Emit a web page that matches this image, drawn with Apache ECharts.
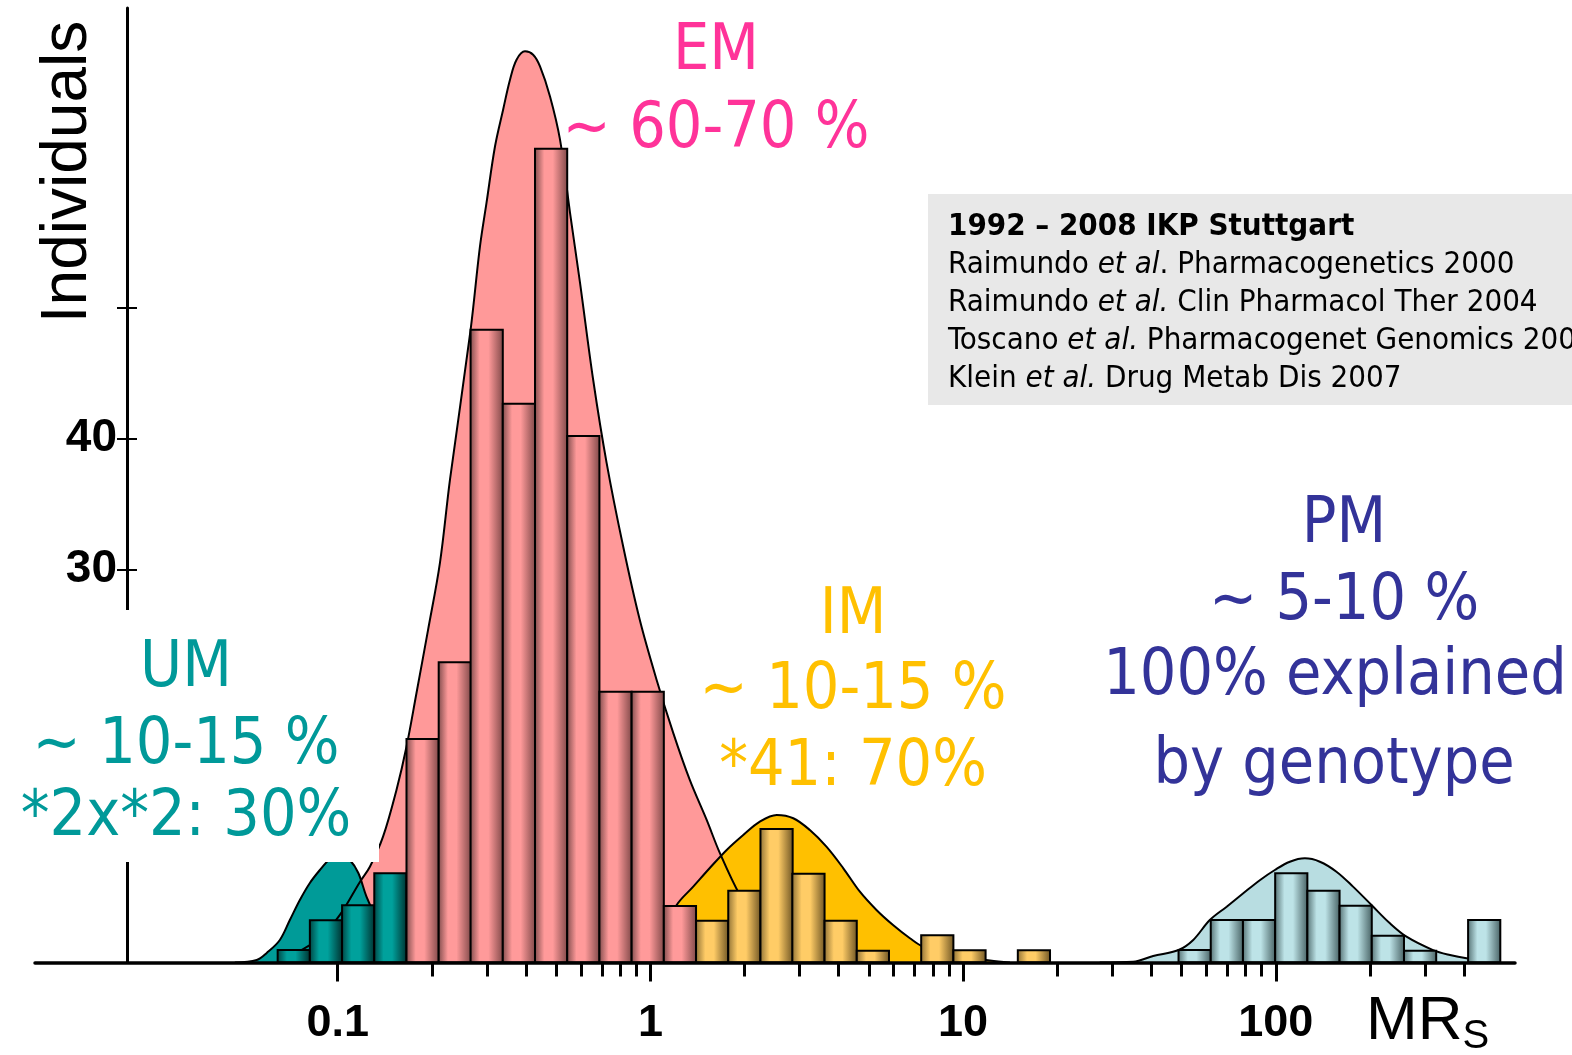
<!DOCTYPE html>
<html><head><meta charset="utf-8">
<script src="https://cdn.jsdelivr.net/npm/echarts@6/dist/echarts.min.js"></script>
<style>html,body{margin:0;padding:0;background:#fff}#c{width:1572px;height:1055px}</style>
</head><body><div id="c"></div><script>
// x values are log10(MR_S), y values in "Individuals" (axis units)
const BIN_WIDTH = 0.103;
const umBinStart = [-1.192, -1.089, -0.986, -0.883];
const umCounts   = [0.95, 3.22, 4.37, 6.81];
const emBinStart = [-0.780, -0.677, -0.575, -0.472, -0.369, -0.266, -0.163, -0.060, 0.043];
const emCounts   = [17.06, 22.92, 48.28, 42.63, 62.10, 40.17, 20.67, 20.67, 4.31];
const imBinStart = [0.146, 0.249, 0.352, 0.454, 0.557, 0.660, 0.763, 0.866, 0.969, 1.072, 1.175];
const imCounts   = [3.19, 5.48, 10.19, 6.78, 3.19, 0.90, 0, 2.08, 0.93, 0, 0.93];
const pmBinStart = [1.689, 1.792, 1.895, 1.998, 2.101, 2.204, 2.307, 2.410, 2.512, 2.615];
const pmCounts   = [0.95, 3.24, 3.24, 6.81, 5.48, 4.34, 2.05, 0.90, 0, 3.24];

const emCurve = [[-1.185,0],[-1.121,0.88],[-1.057,1.87],[-0.993,3.63],[-0.929,6.15],[-0.897,7.31],[-0.855,9.60],[-0.812,13.17],[-0.780,16.47],[-0.748,20.57],[-0.711,25.38],[-0.673,30.50],[-0.641,36.83],[-0.575,48.28],[-0.545,54.64],[-0.524,57.98],[-0.497,62.27],[-0.471,65.08],[-0.449,67.37],[-0.428,68.89],[-0.401,69.53],[-0.375,69.27],[-0.353,68.38],[-0.321,66.09],[-0.289,62.79],[-0.257,57.21],[-0.225,51.87],[-0.183,44.47],[-0.140,38.13],[-0.087,31.74],[-0.034,26.15],[0.020,21.56],[0.073,17.52],[0.126,13.93],[0.180,10.88],[0.222,8.36],[0.286,5.15],[0.350,2.86],[0.446,0.95],[0.574,0.19],[0.702,0]];
const umCurve = [[-1.329,0],[-1.259,0.19],[-1.227,0.73],[-1.185,1.72],[-1.153,3.24],[-1.121,4.77],[-1.089,6.07],[-1.057,7.06],[-1.025,7.90],[-0.993,8.36],[-0.961,7.82],[-0.934,6.83],[-0.908,5.02],[-0.881,3.63],[-0.833,1.56],[-0.785,0.42],[-0.728,0]];
const imCurve = [[-0.098,0],[-0.034,0.57],[0.037,2.10],[0.084,4.39],[0.137,5.79],[0.190,7.21],[0.244,8.59],[0.297,9.73],[0.350,10.75],[0.404,11.26],[0.457,11.01],[0.510,10.11],[0.563,8.84],[0.617,7.19],[0.670,5.40],[0.723,4.01],[0.776,2.86],[0.830,1.85],[0.872,1.21],[0.977,0.50],[1.086,0.15],[1.150,0]];
const pmCurve = [[1.437,0],[1.544,0.06],[1.608,0.50],[1.689,0.95],[1.736,1.72],[1.789,3.24],[1.843,4.26],[1.896,5.28],[1.950,6.30],[1.997,7.06],[2.045,7.69],[2.093,7.95],[2.141,7.69],[2.194,6.93],[2.247,5.79],[2.306,4.39],[2.365,2.99],[2.418,1.97],[2.503,0.95],[2.557,0.57],[2.610,0.32],[2.717,0]];

const majorTicks = [0.1, 1, 10, 100];
const majorTickLabels = ['0.1', '1', '10', '100'];
const minorTicks = [0.2,0.3,0.4,0.5,0.6,0.7,0.8,0.9,2,3,4,5,6,7,8,9,20,30,40,50,60,70,80,90,200,300,400];
const yTickValues = [30, 40, 50];
const yLabelValues = [30, 40];

const X_MIN = -1.968, X_MAX = 2.765, Y_MAX = 72.84;

function binData(starts, counts) {
  return starts.map((s, i) => [s, s + BIN_WIDTH, counts[i]]);
}
function barSeries(name, starts, counts, dark, light, darker) {
  return {
    name, type: 'custom', xAxisIndex: 0, yAxisIndex: 0, z: 6,
    data: binData(starts, counts),
    renderItem(params, api) {
      const v = api.value(2);
      if (!v) return null;
      const p0 = api.coord([api.value(0), v]);
      const p1 = api.coord([api.value(1), 0]);
      return {
        type: 'rect',
        shape: { x: p0[0], y: p0[1], width: p1[0] - p0[0], height: p1[1] - p0[1] },
        style: {
          fill: new echarts.graphic.LinearGradient(0, 0, 1, 0, [
            { offset: 0, color: dark }, { offset: 0.3, color: light },
            { offset: 0.55, color: light }, { offset: 1, color: darker }]),
          stroke: '#000', lineWidth: 2
        }
      };
    }
  };
}
function curveSeries(name, data, fill) {
  return {
    name, type: 'line', xAxisIndex: 0, yAxisIndex: 0, data, smooth: 0.35,
    showSymbol: false, symbol: 'none',
    lineStyle: { color: '#000', width: 2 },
    areaStyle: { color: fill, opacity: 1, origin: 'start' },
    silent: true
  };
}

const BIG = "'DejaVu Sans Condensed','DejaVu Sans',sans-serif";
function bigText(txt, cx, cy, color) {
  return { type: 'text', x: cx, y: cy, z: 110,
    style: { text: txt, font: '64px ' + BIG, fill: color, align: 'center', verticalAlign: 'middle',
      textShadowColor: '#b3b3b3', textShadowOffsetX: 3, textShadowOffsetY: 3, textShadowBlur: 0 } };
}
const LEG = "'DejaVu Sans Condensed','DejaVu Sans',sans-serif";
function legLine(parts, y) {
  return { type: 'text', x: 948, y: y, z: 110,
    style: { text: parts, align: 'left', verticalAlign: 'middle', fill: '#000', font: '31px ' + LEG,
      rich: { i: { fontStyle: 'italic', fontSize: 31, fontFamily: LEG, fill: '#000' },
              b: { fontWeight: 'bold', fontSize: 31, fontFamily: LEG, fill: '#000' } } } };
}

const chart = echarts.init(document.getElementById('c'), null, { renderer: 'canvas' });
chart.setOption({
  animation: false,
  backgroundColor: '#fff',
  grid: [
    { left: 35, right: 57, top: 8, bottom: 92.5 },
    { left: 127, right: 57, top: 8, bottom: 92.5 }
  ],
  xAxis: [
    { type: 'value', gridIndex: 0, min: X_MIN, max: X_MAX, z: 10,
      axisLine: { show: true, onZero: false, lineStyle: { color: '#000', width: 3.5 } },
      axisTick: { show: true, length: 19, customValues: majorTicks.map(Math.log10), lineStyle: { color: '#000', width: 3 } },
      axisLabel: { show: true, customValues: majorTicks.map(Math.log10), margin: 39,
        formatter: v => majorTickLabels[majorTicks.map(Math.log10).findIndex(t => Math.abs(t - v) < 1e-6)] || '',
        color: '#000', fontFamily: "'Liberation Sans', Arial, sans-serif", fontWeight: 'bold', fontSize: 45 },
      splitLine: { show: false } },
    { type: 'value', gridIndex: 0, min: X_MIN, max: X_MAX, position: 'bottom', offset: 0, z: 10,
      axisLine: { show: false, onZero: false },
      axisTick: { show: true, length: 14, customValues: minorTicks.map(Math.log10), lineStyle: { color: '#000', width: 3 } },
      axisLabel: { show: false }, splitLine: { show: false } },
    { type: 'value', gridIndex: 1, min: 0, max: 1, show: false }
  ],
  yAxis: [
    { type: 'value', gridIndex: 0, min: 0, max: Y_MAX, show: false },
    { type: 'value', gridIndex: 1, min: 0, max: Y_MAX, z: 10,
      axisLine: { show: true, onZero: false, lineStyle: { color: '#000', width: 3 } },
      axisTick: { show: true, length: 10, customValues: yTickValues, lineStyle: { color: '#000', width: 2 } },
      axisLabel: { show: true, customValues: yLabelValues, margin: 10, color: '#000',
        fontFamily: "'Liberation Sans', Arial, sans-serif", fontWeight: 'bold', fontSize: 46 },
      splitLine: { show: false } },
    { type: 'value', gridIndex: 1, min: 0, max: Y_MAX, position: 'left', offset: 0, z: 10,
      axisLine: { show: false, onZero: false },
      axisTick: { show: true, inside: true, length: 10, customValues: yTickValues, lineStyle: { color: '#000', width: 2 } },
      axisLabel: { show: false }, splitLine: { show: false } }
  ],
  series: [
    curveSeries('EM curve', emCurve, '#ff9999'),
    curveSeries('UM curve', umCurve, '#009b98'),
    curveSeries('IM curve', imCurve, '#ffc000'),
    curveSeries('PM curve', pmCurve, '#b8dde1'),
    barSeries('UM', umBinStart, umCounts, '#00403e', '#00a19c', '#002e2c'),
    barSeries('EM', emBinStart, emCounts, '#7a4848', '#ff9a9a', '#7c4646'),
    barSeries('IM', imBinStart, imCounts, '#8a6d33', '#ffcc66', '#6b5222'),
    barSeries('PM', pmBinStart, pmCounts, '#506c6e', '#bde3e7', '#445e60')
  ],
  graphic: [
    { type: 'rect', z: 100, shape: { x: 0, y: 610, width: 379, height: 252 }, style: { fill: '#fff' } },
    { type: 'rect', z: 100, shape: { x: 928, y: 194, width: 700, height: 211 }, style: { fill: '#e8e8e8' } },
    legLine('{b|1992 – 2008 IKP Stuttgart}', 227),
    legLine('Raimundo {i|et al}. Pharmacogenetics 2000', 265),
    legLine('Raimundo {i|et al.} Clin Pharmacol Ther 2004', 303),
    legLine('Toscano {i|et al.} Pharmacogenet Genomics 2007', 341),
    legLine('Klein {i|et al.} Drug Metab Dis 2007', 379),
    bigText('EM', 716, 52, '#ff3399'),
    bigText('~ 60-70 %', 716, 130, '#ff3399'),
    bigText('UM', 186, 669, '#009999'),
    bigText('~ 10-15 %', 186, 746, '#009999'),
    bigText('*2x*2: 30%', 186, 818, '#009999'),
    bigText('IM', 853, 616, '#ffc000'),
    bigText('~ 10-15 %', 853, 691, '#ffc000'),
    bigText('*41: 70%', 853, 768, '#ffc000'),
    bigText('PM', 1344, 525, '#333399'),
    bigText('~ 5-10 %', 1344, 602, '#333399'),
    bigText('100% explained', 1335, 677, '#333399'),
    bigText('by genotype', 1334, 766, '#333399'),
    { type: 'text', x: 68, y: 172, rotation: Math.PI / 2, z: 110,
      style: { text: 'Individuals', font: "64px 'Liberation Sans', Arial, sans-serif", fill: '#000', align: 'center', verticalAlign: 'middle' } },
    { type: 'text', x: 1366, y: 1022, z: 110,
      style: { text: 'MR{s|S}', font: "62px 'Liberation Sans', Arial, sans-serif", fill: '#000', align: 'left', verticalAlign: 'middle',
        rich: { s: { fontSize: 40, fontFamily: "'Liberation Sans', Arial, sans-serif", fill: '#000', padding: [30, 0, 0, 0] } } } }
  ]
});
</script></body></html>
